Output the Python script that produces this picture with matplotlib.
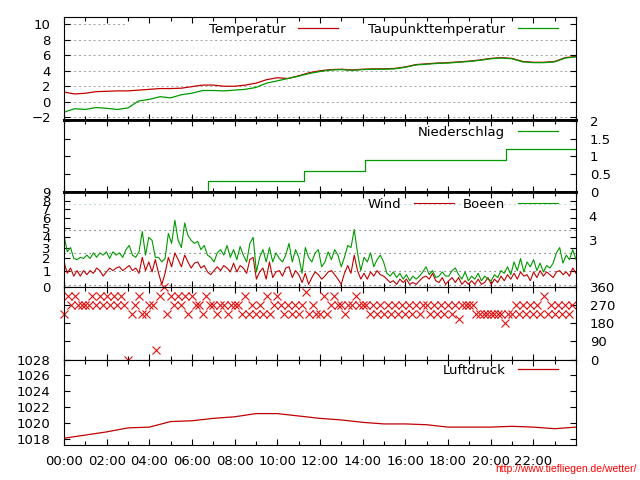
import numpy as np
import matplotlib
matplotlib.use("Agg")
import matplotlib.pyplot as plt
from matplotlib.ticker import MultipleLocator, FixedLocator, NullFormatter, FormatStrFormatter

RED = "#c00000"
GREEN = "#009a00"
DIR_RED = "#e01010"
FS = 9.5

# temperature / dew point, half-hourly (deg C)
T_HOURS = np.arange(0, 24.01, 0.5)
TEMP = [1.25, 1.0, 1.1, 1.3, 1.35, 1.4, 1.4, 1.5, 1.6, 1.7, 1.7, 1.75,
        1.95, 2.15, 2.15, 2.0, 2.0, 2.15, 2.4, 2.85, 3.1, 3.0, 3.35, 3.75,
        4.0, 4.15, 4.2, 4.1, 4.2, 4.25, 4.25, 4.3, 4.5, 4.8, 4.9, 5.0,
        5.05, 5.15, 5.25, 5.4, 5.6, 5.7, 5.6, 5.2, 5.1, 5.1, 5.2, 5.7, 5.85]
DEW = [-1.35, -0.9, -1.0, -0.75, -0.85, -1.0, -0.8, 0.1, 0.3, 0.65, 0.5, 0.9,
       1.1, 1.45, 1.45, 1.4, 1.5, 1.6, 1.85, 2.4, 2.7, 3.0, 3.3, 3.65,
       3.9, 4.1, 4.15, 4.05, 4.15, 4.2, 4.2, 4.25, 4.45, 4.75, 4.85, 4.95,
       5.0, 5.1, 5.2, 5.35, 5.55, 5.65, 5.55, 5.15, 5.05, 5.05, 5.15, 5.65, 5.8]

# accumulated rain (mm)
RAIN_HOURS = [0, 6.75, 11.25, 14.1, 20.7, 24]
RAIN = [0, 0.3, 0.6, 0.9, 1.2, 1.2]
RAIN_TICKS = [0, 0.5, 1, 1.5, 2]

# wind and gusts (m/s), evenly spaced over the day
WIND = [1.7, 0.8, 1.2, 0.6, 1.0, 0.6, 1.0, 0.7, 1.0, 0.8,
        1.2, 1.0, 0.6, 0.9, 1.2, 1.0, 1.2, 1.3, 1.0, 1.2,
        1.4, 1.0, 1.2, 0.8, 2.1, 1.0, 1.7, 0.9, 1.9, 0.8,
        0.1, 0.8, 2.1, 1.3, 2.5, 1.9, 1.3, 2.3, 1.7, 1.2,
        1.6, 1.7, 1.2, 1.4, 0.9, 0.7, 1.0, 1.3, 1.0, 1.4,
        1.2, 0.9, 1.6, 0.9, 1.4, 1.2, 0.8, 1.9, 2.1, 0.4,
        0.9, 1.2, 0.4, 1.7, 0.5, 0.9, 1.0, 0.6, 1.2, 1.3,
        0.5, 1.0, 0.7, 0.2, 0.8, 0.1, 0.5, 0.9, 0.7, 0.4,
        0.6, 0.9, 1.0, 0.7, 0.4, 0.1, 0.8, 1.4, 0.8, 2.3,
        1.0, 0.4, 0.8, 0.4, 0.9, 0.6, 1.0, 0.7, 0.6, 0.4,
        0.2, 0.3, 0.1, 0.4, 0.2, 0.4, 0.1, 0.2, 0.1, 0.3,
        0.5, 0.6, 0.4, 0.8, 0.3, 0.2, 0.5, 0.1, 0.3, 0.5,
        0.2, 0.5, 0.1, 0.3, 0.1, 0.3, 0.1, 0.4, 0.1, 0.2,
        0.5, 0.1, 0.4, 0.2, 0.6, 0.3, 0.7, 0.4, 0.8, 0.4,
        0.9, 0.6, 0.7, 0.3, 0.9, 0.5, 1.0, 0.6, 0.9, 0.7,
        0.5, 0.9, 1.0, 0.7, 0.9, 0.6, 1.2, 0.8]
GUST = [4.2, 2.6, 3.0, 2.0, 1.9, 2.1, 2.0, 2.3, 2.0, 2.5,
        2.1, 2.5, 2.3, 2.6, 2.0, 2.6, 2.3, 2.5, 2.1, 2.8,
        3.2, 2.3, 2.1, 2.6, 4.6, 2.3, 4.0, 3.7, 2.1, 2.1,
        1.7, 2.0, 4.4, 3.4, 5.8, 3.7, 3.0, 5.5, 4.2, 3.7,
        3.4, 3.6, 2.8, 3.2, 2.3, 2.1, 1.7, 2.5, 2.8, 2.3,
        3.2, 2.1, 2.8, 1.9, 3.1, 2.3, 1.7, 3.4, 4.0, 0.9,
        2.1, 2.8, 1.7, 3.0, 1.7, 2.5, 2.0, 1.7, 2.3, 3.4,
        1.7, 2.8, 2.1, 0.8, 3.0, 2.1, 1.7, 2.5, 2.8, 1.3,
        1.7, 2.6, 1.9, 2.8, 2.3, 1.3, 2.1, 3.2, 3.0, 4.8,
        2.5, 1.0, 2.1, 1.7, 2.5, 1.3, 1.9, 2.3, 1.7, 0.8,
        0.6, 0.9, 0.5, 0.8, 0.4, 0.7, 0.3, 0.6, 0.4, 0.6,
        0.9, 1.3, 0.7, 1.0, 0.5, 0.6, 0.9, 0.6, 0.6, 1.0,
        1.2, 0.7, 0.4, 0.9, 0.3, 0.6, 0.4, 0.8, 0.3, 0.6,
        0.4, 0.3, 0.7, 0.5, 1.0, 0.8, 1.3, 0.7, 1.7, 1.0,
        2.0, 0.9, 1.7, 1.3, 1.9, 1.0, 1.6, 0.9, 1.4, 1.2,
        1.6, 2.5, 3.0, 1.6, 2.3, 1.9, 2.8, 1.9]
BFT_EDGES = [0.07, 1.0, 2.46, 4.75, 7.6]
BFT_LABELS = {"3": (2.46, 4.75), "4": (4.75, 7.6)}

# wind direction (deg), every 10 minutes
DIRECTION = [225, 315, 270, 315, 270, 270,
             270, 270, 315, 270, 315, 270,
             315, 270, 315, 270, 315, 270,
             0, 225, 270, 315, 225, 225,
             270, 270, 45, 315, 360, 225,
             315, 270, 315, 270, 315, 225,
             315, 270, 270, 225, 315, 270,
             270, 225, 270, 270, 225, 270,
             270, 270, 225, 315, 225, 270,
             225, 270, 225, 315, 225, 270,
             315, 270, 225, 270, 225, 270,
             225, 270, 337, 225, 270, 225,
             225, 315, 225, 270, 315, 270,
             270, 225, 270, 270, 315, 270,
             270, 270, 225, 270, 225, 270,
             225, 270, 225, 270, 225, 270,
             225, 270, 225, 270, 225, 270,
             270, 225, 270, 225, 270, 225,
             270, 225, 270, 202, 270, 270,
             270, 270, 225, 225, 225, 225,
             225, 225, 225, 225, 180, 225,
             225, 270, 225, 270, 225, 270,
             225, 270, 225, 315, 225, 270,
             225, 270, 225, 270, 225, 270]
DIR_TICKS = [0, 90, 180, 270, 360]

# air pressure (hPa), hourly
P_HOURS = np.arange(25)
PRESSURE = [1018.1, 1018.5, 1018.9, 1019.4, 1019.5, 1020.2, 1020.3, 1020.6,
            1020.8, 1021.2, 1021.2, 1020.9, 1020.6, 1020.4, 1020.1, 1019.9,
            1019.9, 1019.8, 1019.5, 1019.5, 1019.5, 1019.6, 1019.5, 1019.3,
            1019.5]

TIME_LABELS = [f"{h:02d}:00" for h in range(0, 24, 2)]


def wind_fwd(v):
    v = np.asarray(v, dtype=float)
    return np.sign(v) * np.abs(v) ** 0.8


def wind_inv(s):
    s = np.asarray(s, dtype=float)
    return np.sign(s) * np.abs(s) ** 1.25


def base_style(ax, bottom_labels=False):
    ax.set_xlim(0, 24)
    ax.xaxis.set_major_locator(FixedLocator(range(0, 24, 2)))
    ax.xaxis.set_minor_locator(MultipleLocator(1))
    ax.tick_params(axis="both", which="both", direction="in",
                   top=True, right=True, labelsize=FS, width=0.8)
    ax.tick_params(axis="x", which="major", length=4.5)
    ax.tick_params(axis="x", which="minor", length=2.8)
    ax.tick_params(axis="y", which="major", length=4.5, pad=9.5)
    if bottom_labels:
        ax.set_xticklabels(TIME_LABELS)
        ax.tick_params(axis="x", pad=7)
    else:
        ax.xaxis.set_major_formatter(NullFormatter())
    for sp in ax.spines.values():
        sp.set_linewidth(0.8)
        sp.set_color("black")


def add_key(ax, y, colspace=1.0, ncol=1):
    ax.legend(loc="upper right", bbox_to_anchor=(0.965, y), ncol=ncol,
              frameon=False, markerfirst=False, handlelength=3.0,
              handletextpad=1.0, columnspacing=colspace, borderpad=0,
              borderaxespad=0, fontsize=FS)


def main():
    fig = plt.figure(figsize=(6.4, 4.8), dpi=100)
    L, W = 0.1, 0.8

    # temperature
    ax1 = fig.add_axes([L, 0.751, W, 0.9646 - 0.751])
    base_style(ax1)
    ax1.set_ylim(-2.3, 10.95)
    ax1.yaxis.set_major_locator(MultipleLocator(2))
    for g in range(-2, 10, 2):
        ax1.axhline(g, color="#a0a0a0", lw=0.7, ls=(0, (2, 3)), zorder=0)
    ax1.axhline(10, xmin=0, xmax=0.12, color="#a0a0a0", lw=0.7, ls=(0, (2, 3)), zorder=0)
    ax1.plot(T_HOURS, TEMP, color=RED, lw=0.9, label="Temperatur")
    ax1.plot(T_HOURS, DEW, color=GREEN, lw=0.9, label="Taupunkttemperatur")
    add_key(ax1, 0.946, colspace=2.3, ncol=2)
    ax1.spines["bottom"].set_linewidth(2)

    # rain
    ax2 = fig.add_axes([L, 0.6, W, 0.751 - 0.6])
    base_style(ax2)
    ax2.set_ylim(0, 2.04)
    ax2.yaxis.set_major_locator(FixedLocator(RAIN_TICKS))
    ax2.yaxis.set_major_formatter(FormatStrFormatter("%g"))
    ax2.tick_params(axis="y", labelleft=False, labelright=True, pad=10)
    ax2.step(RAIN_HOURS, RAIN, where="post", color=GREEN, lw=0.9, label="Niederschlag")
    add_key(ax2, 0.917)
    ax2.spines["top"].set_linewidth(2)
    ax2.spines["bottom"].set_linewidth(2)

    # wind
    ax3 = fig.add_axes([L, 0.4021, W, 0.6 - 0.4021])
    base_style(ax3)
    ax3.set_yscale("function", functions=(wind_fwd, wind_inv))
    ax3.set_ylim(0, 9)
    ax3.yaxis.set_major_locator(FixedLocator(range(10)))
    ax3.yaxis.set_minor_locator(FixedLocator([]))
    ax3.yaxis.set_major_formatter(FormatStrFormatter("%d"))
    for i, e in enumerate(BFT_EDGES):
        c = "#9ab8c8" if i == len(BFT_EDGES) - 1 else "#505050"
        ax3.axhline(e, color=c, lw=0.8, ls=(0, (1, 3.5)), zorder=0)
    for lab, (a, b) in BFT_LABELS.items():
        mid = wind_inv((wind_fwd(a) + wind_fwd(b)) / 2)
        ax3.text(1.025, mid, lab, transform=ax3.get_yaxis_transform(),
                 ha="left", va="center", fontsize=FS)
    wt = np.linspace(0, 24, len(WIND))
    ax3.plot(wt, WIND, color=RED, lw=0.8, label="Wind")
    ax3.plot(wt, GUST, color=GREEN, lw=0.8, label="Boeen")
    add_key(ax3, 0.942, colspace=0.7, ncol=2)
    ax3.spines["top"].set_linewidth(2)

    # wind direction
    ax4 = fig.add_axes([L, 0.251, W, 0.4021 - 0.251])
    base_style(ax4)
    ax4.set_ylim(0, 360)
    ax4.yaxis.set_major_locator(FixedLocator(DIR_TICKS))
    ax4.yaxis.set_major_formatter(FormatStrFormatter("%d"))
    ax4.tick_params(axis="y", labelleft=False, labelright=True, pad=10)
    dt = np.arange(len(DIRECTION)) / 6.0
    ax4.plot(dt, DIRECTION, ls="none", marker="x", ms=6, mew=0.8,
             color=DIR_RED, clip_on=False)

    # pressure
    ax5 = fig.add_axes([L, 0.0729, W, 0.251 - 0.0729])
    base_style(ax5, bottom_labels=True)
    ax5.set_ylim(1017.25, 1028)
    ax5.yaxis.set_major_locator(MultipleLocator(2))
    ax5.plot(P_HOURS, PRESSURE, color=RED, lw=0.9, label="Luftdruck")
    add_key(ax5, 0.947)

    fig.text(0.995, 0.012, "http://www.tiefliegen.de/wetter/", ha="right",
             va="bottom", color="#ff0000", fontsize=7.5, family="Liberation Sans")

    fig.savefig("out.png", dpi=100)
    plt.close(fig)


if __name__ == "__main__":
    main()
